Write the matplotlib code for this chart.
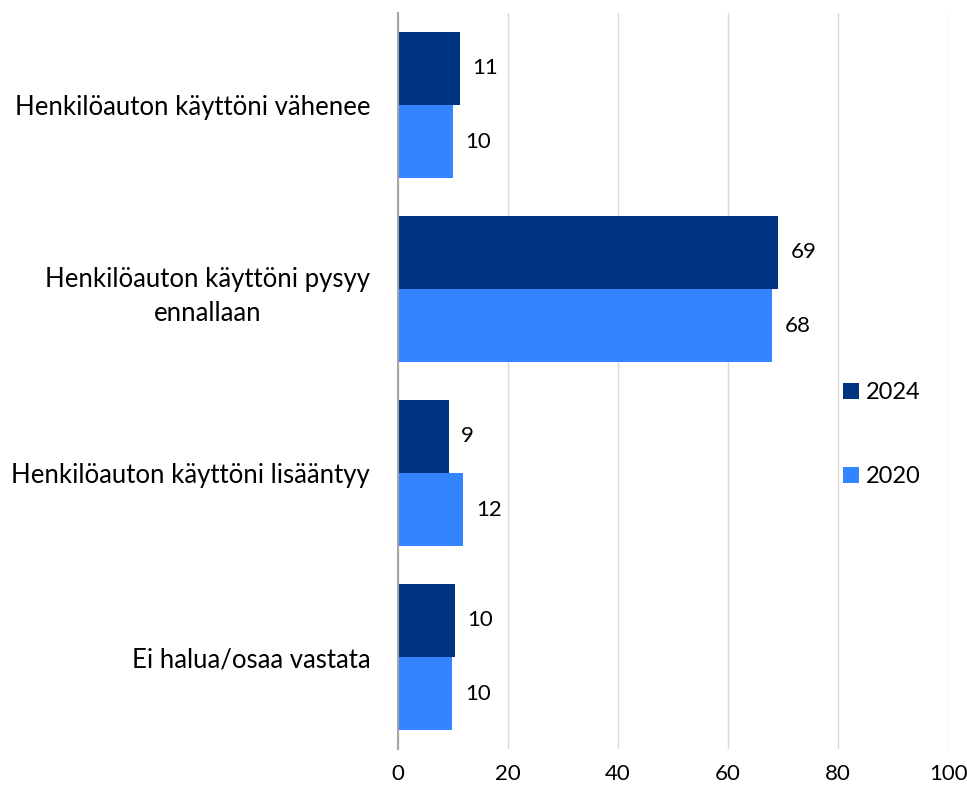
import numpy as np
import matplotlib.pyplot as plt

# Data
kategoriat = ["Henkilöauton käyttöni vähenee",
              "Henkilöauton käyttöni pysyy\nennallaan",
              "Henkilöauton käyttöni lisääntyy",
              "Ei halua/osaa vastata"]
arvot_2024 = [11.3, 69.1, 9.2, 10.3]
arvot_2020 = [10.0, 68.0, 11.9, 9.9]
x_ticks = [0, 20, 40, 60, 80, 100]

vari_2024 = "#003380"
vari_2020 = "#3384FF"

plt.rcParams['font.family'] = ['Lato', 'DejaVu Sans']

fig = plt.figure(figsize=(9.67, 7.89), dpi=100)
ax = fig.add_axes([0.4116, 0.0507, 0.5688, 0.9328])

y = np.arange(len(kategoriat))
h = 0.397
b1 = ax.barh(y - h / 2, arvot_2024, height=h, color=vari_2024, label="2024", zorder=3)
b2 = ax.barh(y + h / 2, arvot_2020, height=h, color=vari_2020, label="2020", zorder=3)

for bars, vals in ((b1, arvot_2024), (b2, arvot_2020)):
    for rect, v in zip(bars, vals):
        ax.annotate(f"{round(v)}", (v, rect.get_y() + rect.get_height() / 2),
                    xytext=(9, 0), textcoords="offset points",
                    va="center", ha="left", fontsize=16, color="black")

ax.set_xlim(0, 100)
ax.set_ylim(len(kategoriat) - 0.5, -0.5)
ax.set_xticks(x_ticks)
ax.set_yticks(y)
ax.set_yticklabels(kategoriat, fontsize=18.5, multialignment="center")
for t in ax.get_yticklabels():
    t.set_linespacing(1.45)
ax.tick_params(axis="x", length=0, labelsize=16, pad=11)
ax.tick_params(axis="y", length=0, pad=20)
ax.xaxis.grid(True, color="#D9D9D9", linewidth=1, zorder=0)
ax.set_axisbelow(True)

for s in ("top", "right", "bottom"):
    ax.spines[s].set_visible(False)
ax.spines["left"].set_color("#A6A6A6")
ax.spines["left"].set_linewidth(1.5)
ax.spines["left"].set_zorder(4)

ax.legend(loc="center left", bbox_to_anchor=(0.809, 0.427), frameon=False,
          fontsize=17, handlelength=0.68, handleheight=0.68, handletextpad=0.3,
          labelspacing=2.65, borderpad=0, borderaxespad=0)

fig.savefig("out.png", dpi=100)
